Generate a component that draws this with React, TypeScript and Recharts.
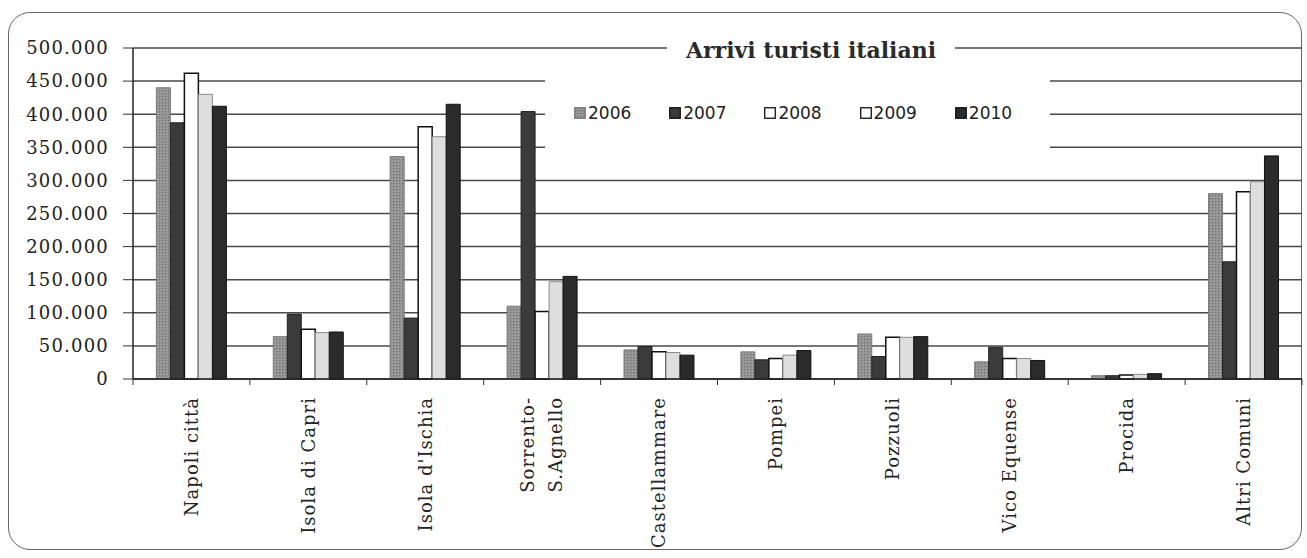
import { BarChart, Bar, XAxis, YAxis, CartesianGrid } from "recharts";

const places = [
  "Napoli città",
  "Isola di Capri",
  "Isola d'Ischia",
  "Sorrento-\nS.Agnello",
  "Castellammare",
  "Pompei",
  "Pozzuoli",
  "Vico Equense",
  "Procida",
  "Altri Comuni",
];

const y2006 = [440000, 64000, 336000, 110000, 44000, 41000, 68000, 26000, 5000, 280000];
const y2007 = [387000, 98000, 92000, 404000, 49000, 29000, 34000, 48000, 5000, 177000];
const y2008 = [462000, 75000, 381000, 102000, 41000, 31000, 63000, 31000, 6000, 283000];
const y2009 = [430000, 70000, 366000, 147000, 40000, 36000, 63000, 31000, 7000, 298000];
const y2010 = [412000, 71000, 415000, 155000, 36000, 43000, 64000, 28000, 8000, 337000];

const yTicks = [0, 50000, 100000, 150000, 200000, 250000, 300000, 350000, 400000, 450000, 500000];

const data = places.map((name, i) => ({
  name,
  y2006: y2006[i],
  y2007: y2007[i],
  y2008: y2008[i],
  y2009: y2009[i],
  y2010: y2010[i],
}));

const series = [
  { key: "y2006", label: "2006", fill: "url(#hatch06)", stroke: "#7c7c7c", sw: 1 },
  { key: "y2007", label: "2007", fill: "#3b3b3b", stroke: "#222", sw: 1 },
  { key: "y2008", label: "2008", fill: "#ffffff", stroke: "#111", sw: 1.5 },
  { key: "y2009", label: "2009", fill: "#dedede", stroke: "#8a8a8a", sw: 1 },
  { key: "y2010", label: "2010", fill: "#2b2b2b", stroke: "#111", sw: 1 },
];

const W = 1307;
const H = 558;
const margin = { top: 48, right: 5, bottom: 9, left: 8 };
const yAxisWidth = 125;
const plotW = W - margin.left - margin.right - yAxisWidth;
const band = plotW / places.length;

const fmt = (v: number) => (v === 0 ? "0" : v.toLocaleString("it-IT"));

const PlaceTick = ({ x, y, payload, index }: any) => {
  const lines = String(payload.value).split("\n");
  const lh = 28;
  return (
    <g>
      <line x1={x - band / 2} x2={x - band / 2} y1={y - 8} y2={y - 2} stroke="#333" />
      {index === places.length - 1 && (
        <line x1={x + band / 2} x2={x + band / 2} y1={y - 8} y2={y - 2} stroke="#333" />
      )}
      <text
        transform={`translate(${x},${y + 10}) rotate(-90)`}
        textAnchor="end"
        fontFamily="'DejaVu Serif', serif"
        fontSize={18}
        letterSpacing={1}
        fill="#222"
      >
        {lines.map((l, k) => (
          <tspan key={k} x={0} y={(k - (lines.length - 1) / 2) * lh} dy="0.35em">
            {l}
          </tspan>
        ))}
      </text>
    </g>
  );
};

// legend sits in its own white box over the upper gridlines
const LegendBox = () => (
  <div
    style={{
      position: "absolute",
      left: 545,
      top: 68,
      width: 505,
      height: 95,
      background: "#fff",
      display: "flex",
      alignItems: "flex-start",
      paddingLeft: 29,
      paddingTop: 35,
      boxSizing: "border-box",
    }}
  >
    {series.map((s) => (
      <div key={s.key} style={{ display: "flex", alignItems: "center", width: 98 }}>
        <svg width={12} height={12} style={{ marginRight: 2 }}>
          <rect
            x={0.75}
            y={0.75}
            width={10.5}
            height={10.5}
            fill={s.key === "y2009" ? "#fff" : s.fill}
            stroke={s.key === "y2006" ? "#777" : "#111"}
            strokeWidth={1.3}
          />
        </svg>
        <span style={{ fontFamily: "'DejaVu Sans', sans-serif", fontSize: 17, color: "#222" }}>
          {s.label}
        </span>
      </div>
    ))}
  </div>
);

export default function App() {
  return (
    <div style={{ position: "absolute", left: 0, top: 0, width: W, height: H, background: "#fff" }}>
      <div
        style={{
          position: "absolute",
          left: 8,
          top: 12,
          width: 1292,
          height: 536,
          border: "1.5px solid #666",
          borderRadius: 22,
        }}
      />
      <BarChart
        width={W}
        height={H}
        data={data}
        margin={margin}
        barCategoryGap="20%"
        barGap={0}
        style={{ position: "absolute", left: 0, top: 0 }}
      >
        <defs>
          <pattern id="hatch06" width={3} height={3} patternUnits="userSpaceOnUse">
            <rect width={3} height={3} fill="#939393" />
            <rect width={1} height={1} fill="#6f6f6f" />
            <rect x={2} y={2} width={1} height={1} fill="#aaaaaa" />
          </pattern>
        </defs>
        <CartesianGrid vertical={false} stroke="#4a4a4a" strokeWidth={1.5} />
        <XAxis
          dataKey="name"
          interval={0}
          height={170}
          axisLine={{ stroke: "#222", strokeWidth: 1.5 }}
          tickLine={false}
          tick={<PlaceTick />}
        />
        <YAxis
          width={yAxisWidth}
          domain={[0, 500000]}
          ticks={yTicks}
          interval={0}
          tickFormatter={fmt}
          axisLine={{ stroke: "#222", strokeWidth: 1.5 }}
          tickLine={{ stroke: "#333" }}
          tickSize={10}
          tickMargin={14}
          tick={{ fontFamily: "'DejaVu Serif', serif", fontSize: 18, fill: "#222", letterSpacing: 1.2 }}
        />
        {series.map((s) => (
          <Bar
            key={s.key}
            dataKey={s.key}
            name={s.label}
            fill={s.fill}
            stroke={s.stroke}
            strokeWidth={s.sw}
            isAnimationActive={false}
          />
        ))}
      </BarChart>
      <LegendBox />
      <div
        style={{
          position: "absolute",
          left: 667,
          top: 36,
          width: 288,
          height: 28,
          background: "#fff",
          textAlign: "center",
          fontFamily: "'DejaVu Serif', serif",
          fontWeight: "bold",
          fontSize: 22,
          lineHeight: "28px",
          color: "#2a2a2a",
        }}
      >
        Arrivi turisti italiani
      </div>
    </div>
  );
}
